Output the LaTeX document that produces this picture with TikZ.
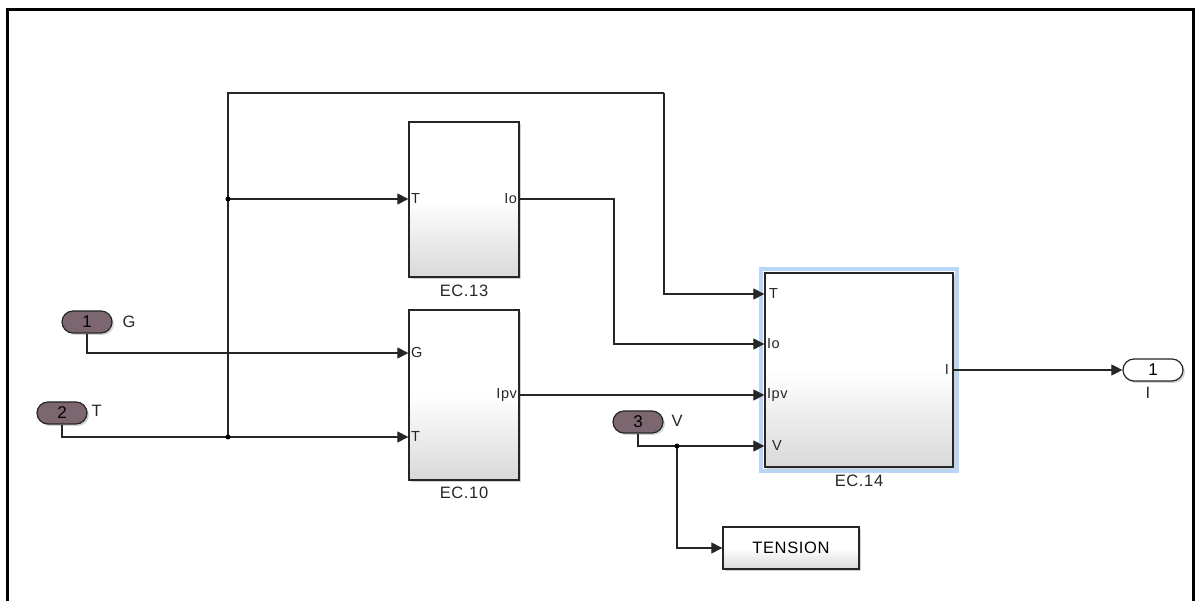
\documentclass[tikz,border=0pt]{standalone}
\usepackage{fontspec}
\setmainfont{Liberation Sans}
\newfontfamily\widefont[LetterSpace=4]{Liberation Sans}
\usetikzlibrary{shapes.misc,shadows,arrows.meta,calc}
\definecolor{mauve}{RGB}{124,102,112}
\definecolor{hilite}{RGB}{186,214,246}
\tikzset{
  blk/.style={draw=black!85, line width=1.3pt, top color=white, bottom color=black!15, middle color=white,
    drop shadow={shadow xshift=2pt, shadow yshift=-2pt, opacity=0.35}, inner sep=0pt},
  inport/.style={rounded rectangle, draw=black!85, line width=1.2pt, fill=mauve,
    minimum width=50pt, minimum height=22pt, inner sep=0pt, font=\fontsize{17}{19}\selectfont,
    drop shadow={shadow xshift=2pt, shadow yshift=-2pt, opacity=0.35}},
  outport/.style={rounded rectangle, draw=black!85, line width=1.2pt, fill=white,
    minimum width=60pt, minimum height=22pt, inner sep=0pt, font=\fontsize{17}{19}\selectfont,
    drop shadow={shadow xshift=2pt, shadow yshift=-2pt, opacity=0.35}},
  sig/.style={line width=1.1pt, black!85, -{Triangle[length=11pt,width=11pt]}},
  wire/.style={line width=1.1pt, black!85},
  dotj/.style={circle, fill=black, inner sep=0pt, minimum size=5pt},
  plab/.style={font=\widefont\fontsize{14.5}{16}\selectfont, inner xsep=2.5pt, inner ysep=2pt, text=black!85},
  blab/.style={font=\widefont\fontsize{16.5}{18}\selectfont, text=black!85},
}
\begin{document}
\begin{tikzpicture}[x=1pt,y=-1pt]
\useasboundingbox (0,0) rectangle (1195,601);
\draw[line width=3pt] (7,601) -- (7,10) -- (1193,10) -- (1193,601);

% blocks
\node[blk, minimum width=110pt, minimum height=155pt] (ec13) at (464,199.5) {};
\node[blk, minimum width=110pt, minimum height=170pt] (ec10) at (464,395) {};
\draw[hilite, line width=4pt] (761,269) rectangle (957,471);
\node[blk, minimum width=188pt, minimum height=194pt] (ec14) at (859,370) {};
\node[blk, minimum width=136pt, minimum height=42pt, font=\widefont\fontsize{16.5}{18}\selectfont] (tens) at (791,548) {TENSION};

\node[blab] (n13) at (464,291) {EC.13};
\node[blab] (n10) at (464,493) {EC.10};
\node[blab] (n14) at (859,481) {EC.14};

% ports
\node[inport] (in1) at (87,322) {1};
\node[blab, anchor=west] (lG) at (119,322) {G};
\node[inport] (in2) at (62,413) {2};
\node[blab, anchor=west] (lT) at (88,411) {T};
\node[inport] (in3) at (638,422) {3};
\node[blab, anchor=west] (lV) at (668,421) {V};
\node[outport] (out1) at (1153,370) {1};
\node[blab] (lI) at (1148,393) {I};

% coordinates
\coordinate (j1) at (228,199);
\coordinate (jT) at (228,437);
\coordinate (tl) at (228,93);
\coordinate (tr) at (664,93);
\coordinate (jV) at (677,446);

% port labels
\node[plab, anchor=west] at (ec13.west |- j1) {T};
\node[plab, anchor=east] at (ec13.east |- j1) {Io};
\node[plab, anchor=west] at (ec10.west |- 0,353) {G};
\node[plab, anchor=west] at (ec10.west |- jT) {T};
\node[plab, anchor=east] at (ec10.east |- 0,395) {Ipv};
\node[plab, anchor=west, xshift=2pt] at (ec14.west |- 0,294) {T};
\node[plab, anchor=west] at (ec14.west |- 0,344) {Io};
\node[plab, anchor=west] at (ec14.west |- 0,395) {Ipv};
\node[plab, anchor=west, xshift=5pt] at (ec14.west |- jV) {V};
\node[plab, anchor=east, xshift=-2pt] at (ec14.east |- 0,370) {I};

% wires
\draw[sig] (in1.south) |- (ec10.west |- 0,353);
\draw[sig] (in2.south) |- (ec10.west |- jT);
\draw[wire] (jT) -- (tl) -- (tr);
\draw[sig] (tr) |- (ec14.west |- 0,294);
\draw[sig] (j1) -- (ec13.west |- j1);
\draw[sig] (ec13.east |- j1) -| (614,344) -- (ec14.west |- 0,344);
\draw[sig] (ec10.east |- 0,395) -- (ec14.west |- 0,395);
\draw[sig] (in3.south) |- (ec14.west |- jV);
\draw[sig] (jV) |- (tens.west);
\draw[sig] (ec14.east |- 0,370) -- (out1.west);
\node[dotj] at (j1) {};
\node[dotj] at (jT) {};
\node[dotj] at (jV) {};
\end{tikzpicture}
\end{document}
